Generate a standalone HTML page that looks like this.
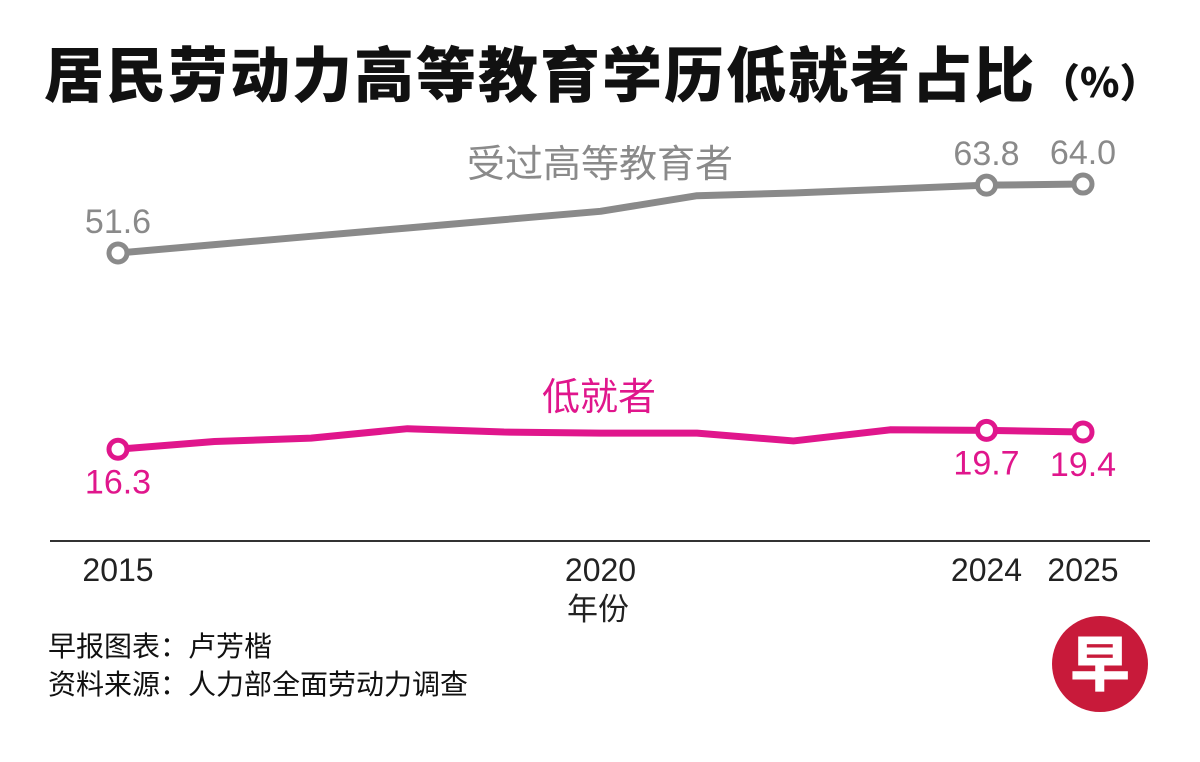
<!DOCTYPE html>
<html><head><meta charset="utf-8"><style>
body{margin:0;background:#fff;}
svg{display:block;font-family:"Liberation Sans","Noto Sans CJK SC",sans-serif;}
</style></head><body>
<svg id="chart" width="1200" height="762" viewBox="0 0 1200 762">
<text x="44" y="97" font-size="60" font-weight="900" letter-spacing="2" fill="#111" font-family="'Noto Sans CJK SC',sans-serif">居民劳动力高等教育学历低就者占比<tspan font-size="40" dx="4" letter-spacing="0">（%）</tspan></text>
<line x1="50" y1="541" x2="1150" y2="541" stroke="#333" stroke-width="2"/>
<g id="marks"></g>
<text x="598" y="620" font-size="31" text-anchor="middle" fill="#222">年份</text>
<text x="48" y="656" font-size="28" fill="#111">早报图表：卢芳楷</text>
<text x="48" y="694" font-size="28" fill="#111">资料来源：人力部全面劳动力调查</text>
<g>
<circle cx="1100" cy="664" r="48" fill="#c81a3a"/>
<text x="1100" y="686" font-size="60" font-weight="900" fill="#fff" text-anchor="middle" font-family="'Noto Sans CJK SC',sans-serif">早</text>
</g>
</svg>
<script>
const years=[2015,2016,2017,2018,2019,2020,2021,2022,2023,2024,2025];
const graduates=[51.6,53.1,54.6,56.1,57.6,59.1,61.9,62.4,63.1,63.8,64.0];
const underemployed=[16.3,17.7,18.3,20.0,19.4,19.2,19.2,17.8,19.8,19.7,19.4];
const tickYears=[2015,2020,2024,2025];
const labeledYears=[2015,2024,2025];
const xs=y=>118+(y-2015)*96.5;
const ys=v=>253-(v-51.6)*5.56;
const NS="http://www.w3.org/2000/svg";
const g=document.getElementById('marks');
function mk(t,a){const e=document.createElementNS(NS,t);for(const k in a)e.setAttribute(k,a[k]);g.appendChild(e);return e;}
function series(vals,color,name,above,labelText,lx,ly){
  const p=mk('polyline',{points:years.map((y,i)=>xs(y)+','+ys(vals[i])).join(' '),fill:'none',stroke:color,'stroke-width':7,'stroke-linejoin':'round'});
  
  
  years.forEach((y,i)=>{
    if(labeledYears.indexOf(y)<0)return;
    const c=mk('circle',{cx:xs(y),cy:ys(vals[i]),r:9,fill:'#fff',stroke:color,'stroke-width':5});
    
    
    const t=mk('text',{x:xs(y),y:above?ys(vals[i])-20:ys(vals[i])+44,'font-size':34,'text-anchor':'middle',fill:color});
    t.textContent=vals[i].toFixed(1);
    
    
  });
  const l=mk('text',{x:lx,y:ly,'font-size':38,'text-anchor':'middle',fill:color});
  l.textContent=labelText;
  
  
}
series(graduates,'#8a8a8a','graduates',true,'受过高等教育者',600,177);
series(underemployed,'#e0168c','underemployed',false,'低就者',599,410);
tickYears.forEach(y=>{
  const t=mk('text',{x:xs(y),y:581,'font-size':32,'text-anchor':'middle',fill:'#222'});
  t.textContent=y;
  
  
});
</script>
</body></html>
